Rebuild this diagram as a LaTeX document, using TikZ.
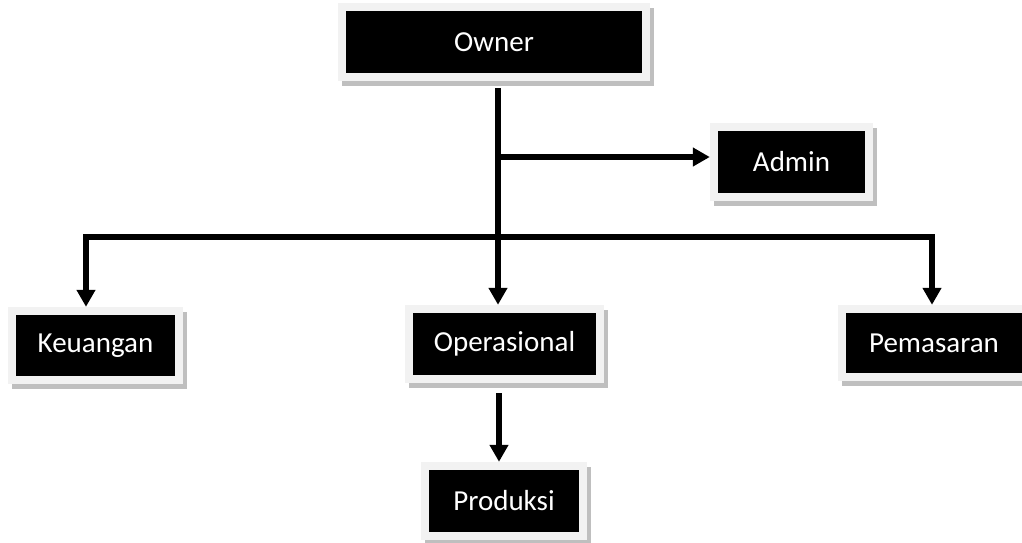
\documentclass[tikz,border=0pt]{standalone}
\usepackage{fontspec}
\setmainfont{Carlito}
\usetikzlibrary{arrows.meta,shadows}
\definecolor{framegray}{HTML}{F2F2F2}
\definecolor{shadowgray}{HTML}{BFBFBF}
\tikzset{
  orgbox/.style={rectangle, inner sep=0pt, fill=framegray, text=white,
    font=\fontsize{29}{34}\selectfont,
    general shadow={fill=shadowgray, shadow xshift=4pt, shadow yshift=-5pt},
    path picture={\fill[black] ([xshift=8pt,yshift=-8pt]path picture bounding box.north west)
      rectangle ([xshift=-8pt,yshift=8pt]path picture bounding box.south east);}},
  conn/.style={line width=6pt, black},
  arr/.style={conn, -{Triangle[width=18pt,length=17pt]}}
}
\begin{document}
\begin{tikzpicture}[x=1pt,y=-1pt]
\useasboundingbox (0,0) rectangle (1022,542);
\clip (0,0) rectangle (1022,542);
\node[orgbox, minimum width=312pt, minimum height=78pt] (owner) at (494,42) {Owner};
\node[orgbox, minimum width=163pt, minimum height=78pt] (admin) at (791.5,162) {Admin};
\node[orgbox, minimum width=175pt, minimum height=77pt] (keu) at (95.5,345.5) {Keuangan};
\node[orgbox, minimum width=199pt, minimum height=78pt] (ops) at (504.5,344) {Operasional};
\node[orgbox, minimum width=192pt, minimum height=76pt] (pem) at (934,343) {Pemasaran};
\node[orgbox, minimum width=166pt, minimum height=78pt] (prod) at (504,501) {Produksi};
\coordinate (bar) at (498,237);
\coordinate (adm) at (498,157);
\coordinate (barL) at (86,237);
\coordinate (barR) at (932,237);
\coordinate (pt) at (499,393);
\draw[arr, shorten <=7pt] (owner.south -| bar) -- (bar |- ops.north);
\draw[arr] (adm) -- (admin.west |- adm);
\draw[arr] (bar) -- (barL) -- (barL |- keu.north);
\draw[arr] (bar) -- (barR) -- (barR |- pem.north);
\draw[arr] (pt) -- (pt |- prod.north);
\end{tikzpicture}
\end{document}
